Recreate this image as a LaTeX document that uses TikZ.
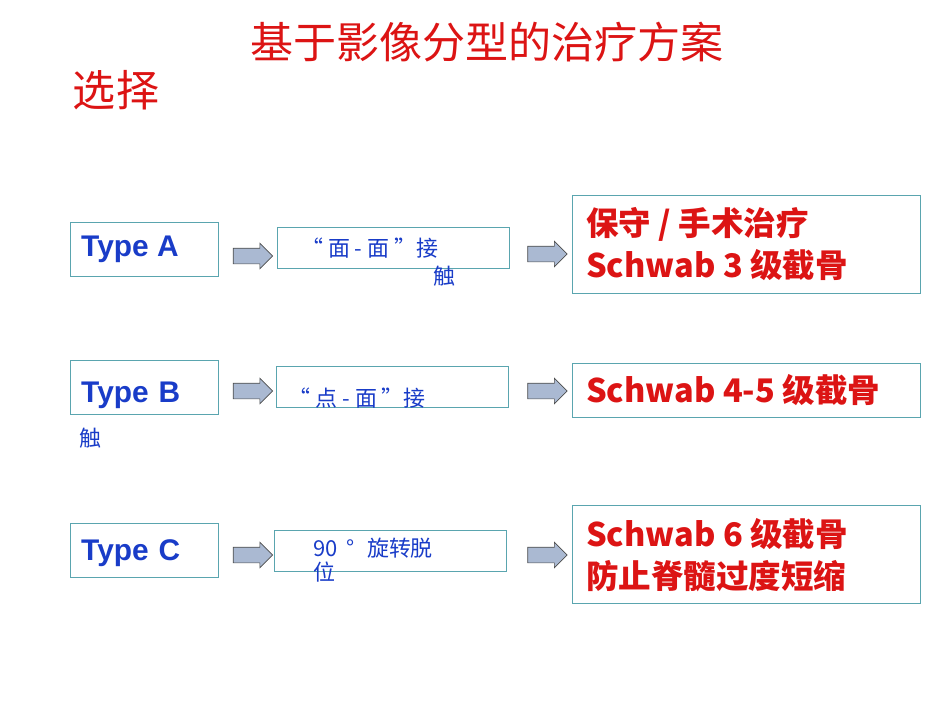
\documentclass[tikz,border=0pt]{standalone}
\usepackage{fontspec}
\setmainfont{Liberation Sans}
\newfontfamily\cjk{Noto Sans CJK SC}
\usetikzlibrary{shapes.arrows,positioning}
\definecolor{boxline}{RGB}{90,165,175}
\definecolor{typeblue}{RGB}{25,60,200}
\definecolor{titlered}{RGB}{220,20,20}
\definecolor{arrowfill}{RGB}{170,185,210}
\tikzset{
	typebox/.style={draw=boxline, minimum width=2.96cm, minimum height=1.08cm, inner sep=0pt},
	midbox/.style={draw=boxline, minimum width=4.64cm, minimum height=0.82cm, inner sep=0pt},
	resbox/.style={draw=boxline, minimum width=6.96cm, inner sep=0pt},
	typetext/.style={text=typeblue, font=\fontsize{17}{20}\selectfont\bfseries, anchor=west},
	midtext/.style={text=typeblue, font=\fontsize{12.5}{14}\selectfont\cjk, anchor=west},
	restext/.style={text=titlered, font=\fontsize{18.5}{24}\selectfont\bfseries\cjk, anchor=west, align=left},
	blockarrow/.style={single arrow, draw=black!70, fill=arrowfill, single arrow head extend=0.1cm,
		inner sep=0pt, outer sep=0pt, minimum width=0pt, minimum height=0pt},
}
\newcommand{\arrowbody}{\rule{0.62cm}{0pt}\rule{0pt}{0.3cm}}
\begin{document}
\begin{tikzpicture}
	\useasboundingbox (0,0) rectangle (19,-14.26);
	
	\node[text=titlered, font=\fontsize{24.5}{28}\selectfont\cjk] (title) at (9.74,-0.84) {基于影像分型的治疗方案};
	\node[text=titlered, font=\fontsize{24.5}{28}\selectfont\cjk] (choice) at (2.32,-1.8) {选择};
	
	% Type A
	\node[typebox] (tA) at (2.88,-4.98) {};
	\node[typetext] at (1.5,-4.98) {Type A};
	\node[midbox] (mA) at (7.87,-4.96) {};
	\node[midtext] at (5.9,-4.96) {“ 面 - 面 ”接};
	\node[midtext] at (8.55,-5.52) {触};
	\node[resbox, minimum height=1.96cm] (rA) at (14.92,-4.88) {};
	\node[restext] at (11.6,-4.88) {保守 / 手术治疗\\Schwab 3 级截骨};
	\node[blockarrow] (aA1) at (4.98,-5.12) {\arrowbody};
	\node[blockarrow] (aA2) at (10.87,-5.08) {\arrowbody};
	
	% Type B
	\node[typebox] (tB) at (2.88,-7.74) {};
	\node[typetext] at (1.5,-7.9) {Type\,\,B};
	\node[text=typeblue, font=\fontsize{12.5}{14}\selectfont\cjk] at (1.8,-8.76) {触};
	\node[midbox] (mB) at (7.85,-7.74) {};
	\node[midtext] at (5.65,-7.96) {“ 点 - 面 ”接};
	\node[resbox, minimum height=1.08cm] (rB) at (14.92,-7.8) {};
	\node[restext] at (11.6,-7.8) {Schwab 4-5 级截骨};
	\node[blockarrow] (aB1) at (4.98,-7.82) {\arrowbody};
	\node[blockarrow] (aB2) at (10.87,-7.82) {\arrowbody};
	
	% Type C
	\node[typebox] (tC) at (2.88,-11.0) {};
	\node[typetext] at (1.5,-11.06) {Type\,\,C};
	\node[midbox] (mC) at (7.81,-11.02) {};
	\node[midtext, align=left] at (6.15,-11.2) {90 \,°\,\, 旋转脱\\位};
	\node[resbox, minimum height=1.96cm] (rC) at (14.92,-11.08) {};
	\node[restext] at (11.6,-11.1) {Schwab 6 级截骨\\防止脊髓过度短缩};
	\node[blockarrow] (aC1) at (4.98,-11.1) {\arrowbody};
	\node[blockarrow] (aC2) at (10.87,-11.1) {\arrowbody};
\end{tikzpicture}
\end{document}
